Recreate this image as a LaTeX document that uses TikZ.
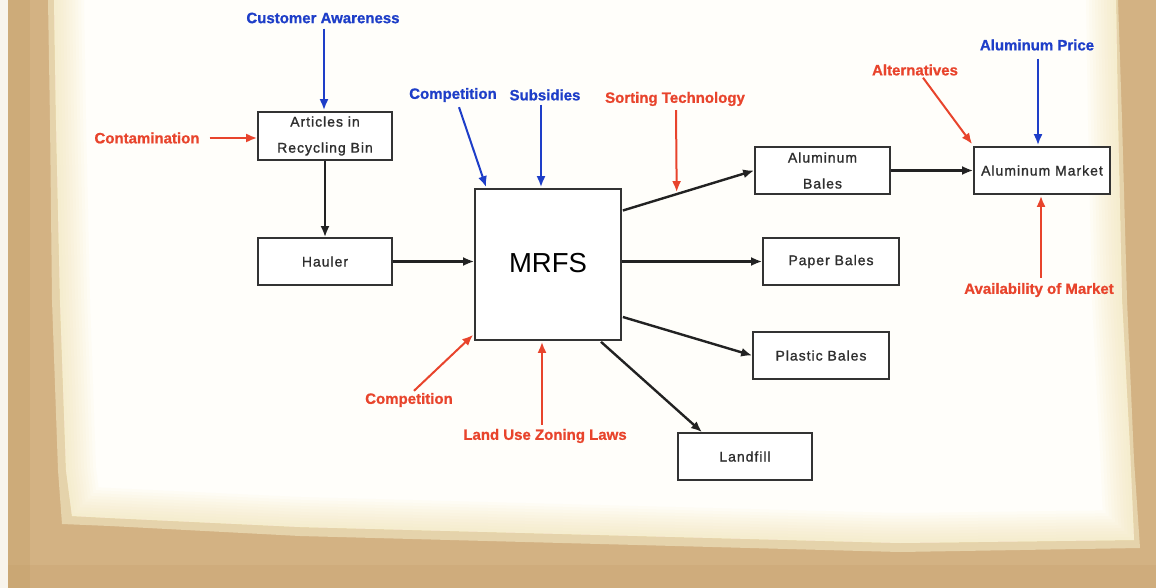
\documentclass[tikz,border=0pt]{standalone}
\usepackage{fontspec}
\setmainfont{Liberation Sans}
\newfontfamily\boxfont[LetterSpace=7,FakeBold=1.2]{Liberation Sans}
\newfontfamily\labfont[FakeBold=0.8]{Liberation Sans Bold}
\usetikzlibrary{arrows.meta,calc}

\definecolor{frametan}{HTML}{D3B283}
\definecolor{framedark}{HTML}{C49E68}
\definecolor{frameedge}{HTML}{EADCB6}
\definecolor{paper}{HTML}{FFFEFA}
\definecolor{cream}{HTML}{F3E2AE}
\definecolor{boxline}{HTML}{333333}
\definecolor{boxtext}{HTML}{2E2E2E}
\definecolor{flowline}{HTML}{222222}
\definecolor{infblue}{HTML}{1E3EC8}
\definecolor{infred}{HTML}{E8442C}

\tikzset{
  box/.style={draw=boxline, line width=1.7pt, fill=white, inner sep=2pt,
    align=center, text=boxtext, font=\boxfont\fontsize{14}{26}\selectfont},
  lab/.style={font=\labfont\fontsize{15}{18}\selectfont, inner sep=2pt},
  bluelab/.style={lab, text=infblue},
  redlab/.style={lab, text=infred},
  flow/.style={draw=flowline, line width=2.4pt, -{Latex[length=11pt,width=9pt]}},
  bluearrow/.style={draw=infblue, line width=2pt, -{Latex[length=11pt,width=9pt]}},
  redarrow/.style={draw=infred, line width=2pt, -{Latex[length=11pt,width=9pt]}},
}

\begin{document}
\begin{tikzpicture}[x=1pt,y=-1pt]
\useasboundingbox (0,0) rectangle (1156,588);

% aged frame
\fill[frametan] (0,0) rectangle (1156,588);
\fill[framedark, opacity=0.35] (8,0) rectangle (30,588);
\fill[framedark, opacity=0.25] (0,565) rectangle (1156,588);
\fill[white!85!frametan] (0,0) rectangle (8,588);
% torn light edge of the sheet
\fill[frameedge, opacity=0.8]
  (48,0) -- (1118,0) -- (1122,120) -- (1127,300) -- (1134,460) -- (1140,548)
  -- (900,552) -- (600,544) -- (300,536) -- (110,526) -- (62,524)
  -- (58,470) -- (52,300) -- (50,120) -- cycle;
% the sheet with a softened border
\begin{scope}
  \clip (54,0) -- (1116,0) -- (1118,120) -- (1122,300) -- (1130,450) -- (1134,540)
    -- (900,543) -- (600,535) -- (300,527) -- (110,518) -- (72,516)
    -- (66,470) -- (60,300) -- (56,120) -- cycle;
  \fill[paper] (0,0) rectangle (1156,588);
  \foreach \w in {60,54,...,6} {
    \draw[cream, line width=\w pt, opacity=0.07, line join=round]
      (54,-60) -- (1116,-60) -- (1116,0) -- (1118,120) -- (1122,300) -- (1130,450) -- (1134,540)
      -- (900,543) -- (600,535) -- (300,527) -- (110,518) -- (72,516)
      -- (66,470) -- (60,300) -- (56,120) -- (54,0) -- cycle;
  }
\end{scope}

% boxes
\node[box, minimum width=134pt, minimum height=48pt] (art) at (325,136) {Articles in\\Recycling Bin};
\node[box, minimum width=134pt, minimum height=47pt] (haul) at (325,261.5) {Hauler};
\node[box, minimum width=146pt, minimum height=151pt,
      font=\fontsize{27.5}{33}\selectfont, text=black] (mrfs) at (548,264.5) {\raisebox{4pt}{MRFS}};
\node[box, minimum width=135pt, minimum height=47pt] (albales) at (822.5,170.5) {Aluminum\\Bales};
\node[box, minimum width=136pt, minimum height=47pt] (almkt) at (1042,170.5) {Aluminum Market};
\node[box, minimum width=136pt, minimum height=47pt] (paperb) at (831,261.5) {Paper Bales};
\node[box, minimum width=136pt, minimum height=47pt] (plastic) at (821,355.5) {Plastic Bales};
\node[box, minimum width=134pt, minimum height=47pt] (landfill) at (745,456.5) {Landfill};

% influence labels
\node[bluelab] (cust) at (323,18) {Customer Awareness};
\node[redlab] (contam) at (147,138) {Contamination};
\node[bluelab] (comp1) at (453,95) {Competition};
\node[bluelab] (subs) at (545,95) {Subsidies};
\node[redlab] (sort) at (675,99) {Sorting Technology};
\node[redlab] (alt) at (915,70) {Alternatives};
\node[bluelab] (price) at (1037,45) {Aluminum Price};
\node[redlab] (avail) at (1039,290) {Availability of Market};
\node[redlab] (comp2) at (409,400) {Competition};
\node[redlab] (zoning) at (545,436) {Land Use Zoning Laws};

% material flow
\draw[flow] (art.south) -- (art.south |- haul.north);
\draw[flow] (haul.east) -- (haul.east -| mrfs.west);
\draw[flow] ($(mrfs.east)+(1,-54)$) -- coordinate[pos=0.41] (sortpt) (albales.west);
\draw[flow] (mrfs.east |- paperb.west) -- (paperb.west);
\draw[flow] ($(mrfs.east)+(1,52.5)$) -- (plastic.west);
\draw[flow] ($(mrfs.south)+(53,1)$) -- ($(landfill.north)+(-43,0)$);
\draw[flow] (albales) -- (almkt);

% influences
\draw[bluearrow] ($(cust.south)+(1,3)$) -- ($(cust.south |- art.north)+(1,-1)$);
\draw[redarrow] ($(contam.east)+(8,0)$) -- (contam.east -| art.west);
\draw[bluearrow] ($(comp1.south)+(6,3)$) -- ($(mrfs.north west)+(12,-1)$);
\draw[bluearrow] ($(subs.south)+(-4,2)$) -- ($(subs.south |- mrfs.north)+(-4,-1)$);
\draw[redarrow] ($(sort.south)+(1,2)$) -- ($(sortpt)+(0,-2)$);
\draw[redarrow] ($(alt.south)+(8,0)$) -- ($(almkt.north west)+(-1,-2)$);
\draw[bluearrow] ($(price.south)+(1,6)$) -- ($(price.south |- almkt.north)+(1,-1)$);
\draw[redarrow] ($(avail.north)+(2,-3)$) -- ($(avail.north |- almkt.south)+(2,1)$);
\draw[redarrow] ($(comp2.north)+(5,0)$) -- ($(mrfs.south west)+(-1,-6)$);
\draw[redarrow] ($(zoning.north)+(-3,-2)$) -- ($(zoning.north |- mrfs.south)+(-3,1)$);
\end{tikzpicture}
\end{document}
